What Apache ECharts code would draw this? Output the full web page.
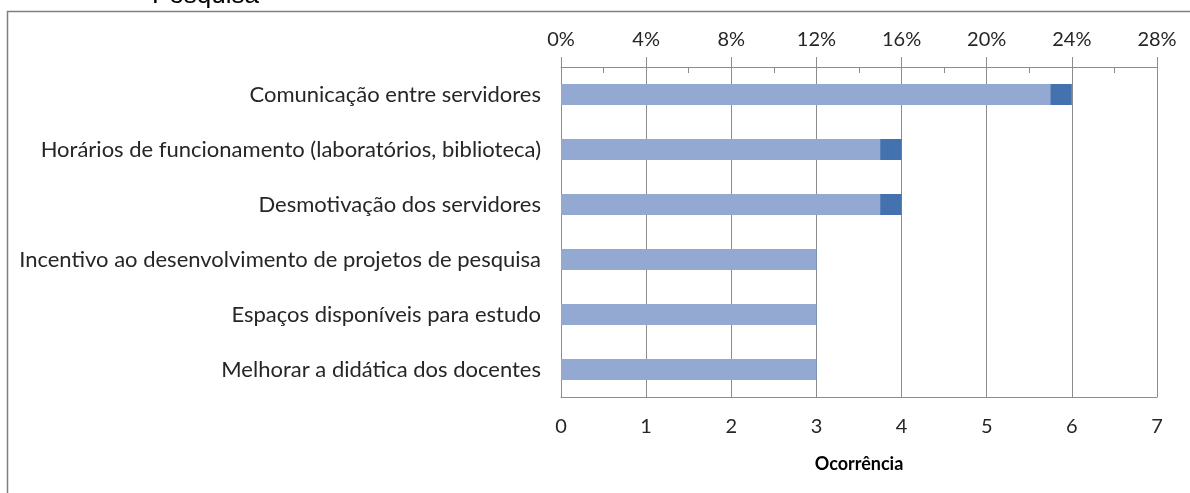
<!DOCTYPE html>
<html>
<head>
<meta charset="utf-8">
<script src="https://cdn.jsdelivr.net/npm/echarts@6/dist/echarts.min.js"></script>
<style>
  html, body { margin: 0; padding: 0; background: #fff; }
  #chart { width: 1190px; height: 493px; }
</style>
</head>
<body>
<div id="chart"></div>
<script>
const categories = [
  'Comunicação entre servidores',
  'Horários de funcionamento (laboratórios, biblioteca)',
  'Desmotivação dos servidores',
  'Incentivo ao desenvolvimento de projetos de pesquisa',
  'Espaços disponíveis para estudo',
  'Melhorar a didática dos docentes'
];
const counts = [6, 4, 4, 3, 3, 3];
const percents = [23, 15, 15, 12, 12, 12];

const labelFont = 'Lato, Open Sans, sans-serif';
const textColor = '#262626';
const lineColor = '#8c8c8c';

const chart = echarts.init(document.getElementById('chart'));

chart.setOption({
  animation: false,
  textStyle: { fontFamily: labelFont },
  grid: { left: 561, right: 33, top: 67, bottom: 96 },
  graphic: [
    {
      type: 'rect',
      shape: { x: 7.5, y: 11.5, width: 1300, height: 600 },
      style: { fill: 'none', stroke: '#7f7f7f', lineWidth: 1.5 },
      silent: true
    },
    {
      type: 'text',
      left: 152,
      top: -17,
      style: { text: 'Pesquisa', fontFamily: 'Liberation Sans, Arial, sans-serif', fontSize: 26, fill: '#000' },
      silent: true
    }
  ],
  xAxis: [
    {
      type: 'value',
      position: 'bottom',
      min: 0, max: 7, interval: 1,
      axisLine: { show: true, lineStyle: { color: lineColor } },
      axisTick: { show: false },
      splitLine: { show: true, lineStyle: { color: lineColor, width: 1 } },
      axisLabel: { color: textColor, fontSize: 20, margin: 20, fontFamily: labelFont },
      name: 'Ocorrência',
      nameLocation: 'middle',
      nameGap: 58,
      nameTextStyle: { color: '#000', fontSize: 18, fontWeight: 'bold', fontFamily: labelFont }
    },
    {
      type: 'value',
      position: 'top',
      min: 0, max: 28, interval: 4,
      axisLine: { show: true, lineStyle: { color: lineColor } },
      axisTick: { show: true, inside: false, length: 10, lineStyle: { color: lineColor } },
      splitLine: { show: false },
      axisLabel: { color: textColor, fontSize: 20, margin: 17, formatter: '{value}%', fontFamily: labelFont }
    },
    {
      type: 'value',
      position: 'top',
      min: 0, max: 28, interval: 2,
      axisLine: { show: false },
      axisTick: { show: true, inside: true, length: 6, lineStyle: { color: lineColor } },
      splitLine: { show: false },
      axisLabel: { show: false }
    }
  ],
  yAxis: {
    type: 'category',
    inverse: true,
    data: categories,
    axisLine: { show: true, lineStyle: { color: lineColor } },
    axisTick: { show: false },
    axisLabel: { color: textColor, fontSize: 22, margin: 20, fontFamily: labelFont }
  },
  series: [
    {
      name: 'Ocorrência',
      type: 'bar',
      xAxisIndex: 0,
      data: counts,
      barWidth: 21,
      itemStyle: { color: '#4472ae' }
    },
    {
      name: 'Percentual',
      type: 'bar',
      xAxisIndex: 1,
      data: percents,
      barWidth: 21,
      barGap: '-100%',
      itemStyle: { color: '#93a9d2' }
    }
  ]
});
</script>
</body>
</html>
